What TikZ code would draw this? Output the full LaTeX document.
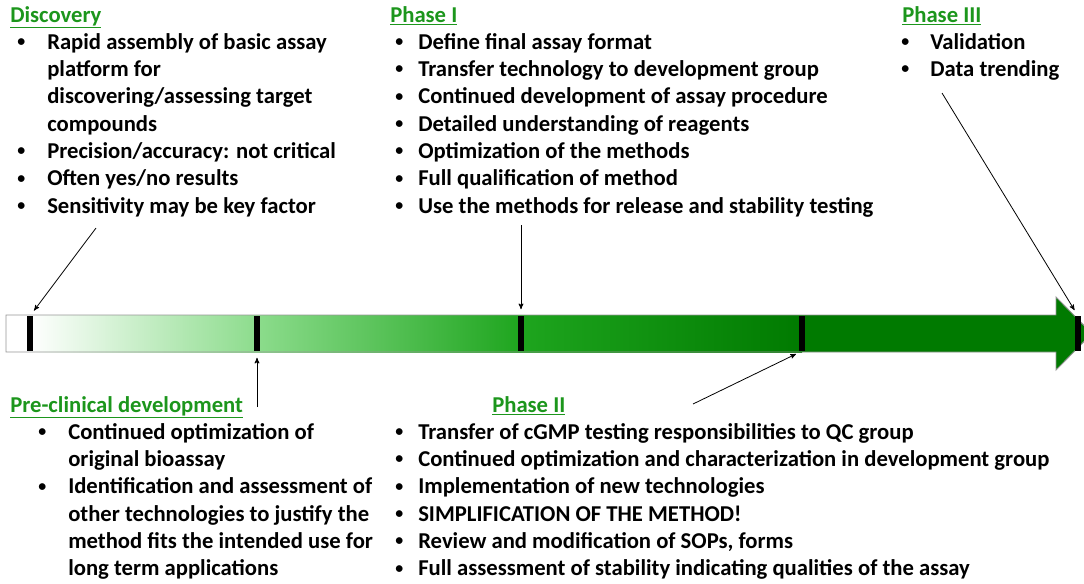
\documentclass[tikz,border=0pt]{standalone}
\usepackage{fontspec}
\setmainfont{Carlito}
\usetikzlibrary{arrows,positioning}
\definecolor{headgreen}{RGB}{28,150,28}
\definecolor{barlight}{RGB}{140,220,140}
\definecolor{barbright}{RGB}{52,204,52}
\definecolor{barmid}{RGB}{30,165,30}
\definecolor{bardeep}{RGB}{8,135,8}
\definecolor{bardark}{RGB}{0,122,0}
\definecolor{bargray}{RGB}{150,150,150}
\newcommand{\bul}{\raisebox{0.22ex}{\scalebox{0.7}{\textbullet}}}
\newcommand{\itemrows}[2]{\begin{tabular}[t]{@{}p{#1}@{}l@{}}#2\end{tabular}}
\tikzset{>=stealth',
    heading/.style={anchor=base west, inner sep=0pt, text=headgreen,
        font=\bfseries\fontsize{17}{20.5}\selectfont},
    bullets/.style={anchor=base west, inner sep=0pt,
        font=\bfseries\fontsize{17}{20.5}\selectfont},
    tick/.style={fill=black, inner sep=0pt, minimum width=4.5pt, minimum height=26pt},
    link/.style={->, line width=0.6pt, shorten >=5pt}}
\begin{document}
\begin{tikzpicture}[x=0.75pt,y=-0.75pt]
\useasboundingbox (0,0) rectangle (1084,583);

% timeline bar
\fill[white] (6,315) rectangle (30,352);
\shade[left color=white, right color=barlight] (30,315) rectangle (257,352);
\shade[left color=barlight, middle color=barbright, right color=barmid] (257,315) rectangle (521,352);
\shade[left color=barmid, middle color=bardeep, right color=bardark] (521,315) rectangle (802,352);
\fill[bardark] (802,315) -- (1056,315) -- (1056,297) -- (1092,333.5)
    -- (1056,370) -- (1056,352) -- (802,352) -- cycle;
\draw[bargray, line width=0.7pt] (6,315) -- (1056,315) -- (1056,297) -- (1092,333.5)
    -- (1056,370) -- (1056,352) -- (6,352) -- cycle;

\node[tick] (t1) at (30,333.5) {};
\node[tick] (t2) at (257,333.5) {};
\node[tick] (t3) at (521,333.5) {};
\node[tick] (t4) at (802,333.5) {};
\node[tick] (t5) at (1078,333.5) {};

% headings
\node[heading] (disc) at (10,22) {\underline{Discovery}};
\node[heading] (ph1) at (390,22) {\underline{Phase I}};
\node[heading] (ph3) at (902,22) {\underline{Phase III}};
\node[heading] (prec) at (10,412) {\underline{Pre-clinical development}};
\node[heading] (ph2) at (492,412) {\underline{Phase II}};

% bullet lists
\node[bullets] (disclist) at (17,49) {\itemrows{22.5pt}{%
    \bul & Rapid assembly of basic assay\\
    & platform for\\
    & discovering/assessing target\\
    & compounds\\
    \bul & Precision/accuracy: not critical\\
    \bul & Often yes/no results\\
    \bul & Sensitivity may be key factor}};
\node[bullets] (ph1list) at (395,49) {\itemrows{17.25pt}{%
    \bul & Define final assay format\\
    \bul & Transfer technology to development group\\
    \bul & Continued development of assay procedure\\
    \bul & Detailed understanding of reagents\\
    \bul & Optimization of the methods\\
    \bul & Full qualification of method\\
    \bul & Use the methods for release and stability testing}};
\node[bullets] (ph3list) at (901,49) {\itemrows{21.75pt}{%
    \bul & Validation\\
    \bul & Data trending}};
\node[bullets] (preclist) at (38,439) {\itemrows{22.5pt}{%
    \bul & Continued optimization of\\
    & original bioassay\\
    \bul & Identification and assessment of\\
    & other technologies to justify the\\
    & method fits the intended use for\\
    & long term applications}};
\node[bullets] (ph2list) at (395,439) {\itemrows{17.25pt}{%
    \bul & Transfer of cGMP testing responsibilities to QC group\\
    \bul & Continued optimization and characterization in development group\\
    \bul & Implementation of new technologies\\
    \bul & SIMPLIFICATION OF THE METHOD!\\
    \bul & Review and modification of SOPs, forms\\
    \bul & Full assessment of stability indicating qualities of the assay}};

% connectors
\coordinate (discend) at (96,228);
\coordinate (ph1end) at (521,225);
\coordinate (ph3end) at (942,93);
\coordinate (precend) at (257,407);
\coordinate (ph2end) at (693,404);
\draw[link] (discend) -- (t1.north);
\draw[link] (ph1end) -- (t3.north);
\draw[link] (ph3end) -- (t5.north);
\draw[link] (precend) -- (t2.south);
\draw[link] (ph2end) -- (t4.south);
\end{tikzpicture}
\end{document}
